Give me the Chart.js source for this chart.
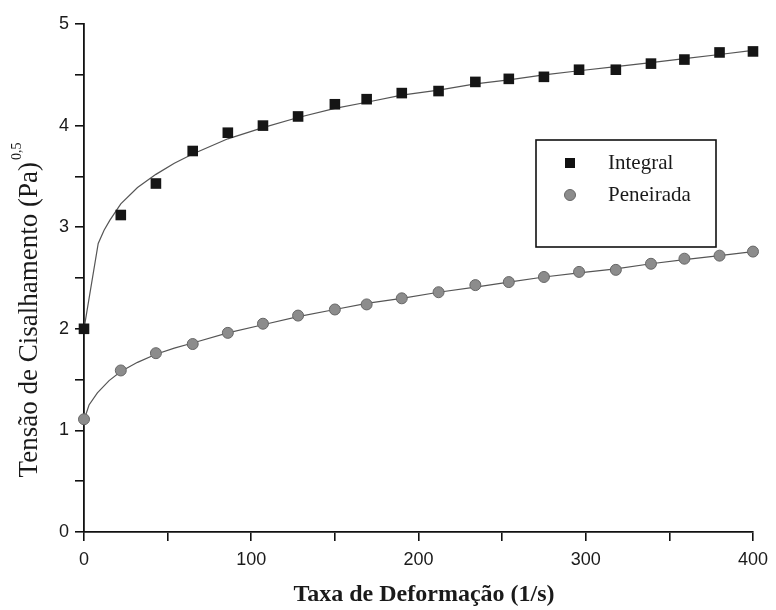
<!DOCTYPE html>
<html>
<head>
<meta charset="utf-8">
<script src="https://cdn.jsdelivr.net/npm/chart.js@4/dist/chart.umd.min.js"></script>
<style>
	body { margin: 0; background: #fff; }
	#wrap { width: 776px; height: 610px; }
</style>
</head>
<body>
<div id="wrap"><canvas id="Chart"></canvas></div>
<script>
/* measured points (taxa de deformacao, 1/s) */
const xRate = [0, 22, 43, 65, 86, 107, 128, 150, 169, 190, 212, 234, 254, 275, 296, 318, 339, 359, 380, 400]
const integral = [2.0, 3.12, 3.43, 3.75, 3.93, 4.0, 4.09, 4.21, 4.26, 4.32, 4.34, 4.43, 4.46, 4.48, 4.55, 4.55, 4.61, 4.65, 4.72, 4.73]
const peneirada = [1.11, 1.59, 1.76, 1.85, 1.96, 2.05, 2.13, 2.19, 2.24, 2.30, 2.36, 2.43, 2.46, 2.51, 2.56, 2.58, 2.64, 2.69, 2.72, 2.76]

/* fitted curves */
const fitIntX = [0, 8.5, 12, 15.5, 22, 32, 43, 54, 65, 86, 107, 128, 150, 169, 190, 212, 234, 254, 275, 296, 318, 339, 359, 380, 400]
const fitIntegral = [2.0, 2.84, 2.97, 3.07, 3.23, 3.39, 3.52, 3.63, 3.72, 3.87, 3.98, 4.08, 4.17, 4.23, 4.30, 4.35, 4.41, 4.45, 4.50, 4.54, 4.58, 4.62, 4.66, 4.70, 4.74]
const fitPenX = [0, 3, 8, 15, 22, 32, 43, 54, 65, 86, 107, 128, 150, 169, 190, 212, 234, 254, 275, 296, 318, 339, 359, 380, 400]
const fitPeneirada = [1.1, 1.25, 1.37, 1.49, 1.58, 1.67, 1.75, 1.81, 1.86, 1.96, 2.04, 2.12, 2.19, 2.25, 2.30, 2.36, 2.41, 2.46, 2.51, 2.55, 2.59, 2.64, 2.68, 2.72, 2.76]

const seriesNames = ['Integral', 'Peneirada']
const xTitle = 'Taxa de Deformação (1/s)'
const yTitle = 'Tensão de Cisalhamento (Pa)'
const yTitleSup = '0,5'

const toXY = (xs, ys) => xs.map((x, i) => ({ x: x, y: ys[i] }))

const serif = '"Liberation Serif", "Times New Roman", serif'
const sans = '"Liberation Sans", Arial, sans-serif'

// titles and inner legend box
const extras = {
	id: 'extras',
	afterDraw(chart) {
		const ctx = chart.ctx
		const ca = chart.chartArea
		ctx.save()
		ctx.fillStyle = '#1a1a1a'

		// x title
		ctx.font = 'bold 24px ' + serif
		ctx.textAlign = 'center'
		ctx.textBaseline = 'middle'
		ctx.fillText(xTitle, 424, 595)

		// y title, rotated, with superscript
		ctx.save()
		ctx.font = '27px ' + serif
		const w1 = ctx.measureText(yTitle).width
		ctx.font = '14px ' + serif
		const w2 = ctx.measureText(yTitleSup).width
		const total = w1 + w2 + 2
		ctx.translate(37, 310)
		ctx.rotate(-Math.PI / 2)
		ctx.textAlign = 'left'
		ctx.textBaseline = 'alphabetic'
		ctx.font = '27px ' + serif
		ctx.fillText(yTitle, -total / 2, 0)
		ctx.font = '14px ' + serif
		ctx.fillText(yTitleSup, -total / 2 + w1 + 2, -16)
		ctx.restore()

		// legend box
		const bx = ca.left + 452
		const by = ca.top + 116
		ctx.strokeStyle = '#111'
		ctx.lineWidth = 1.6
		ctx.strokeRect(bx, by, 180, 107)

		ctx.fillStyle = '#111'
		ctx.fillRect(bx + 29, by + 18, 10, 10)
		ctx.beginPath()
		ctx.arc(bx + 34, by + 55, 5.5, 0, Math.PI * 2)
		ctx.fillStyle = '#8c8c8c'
		ctx.fill()
		ctx.strokeStyle = '#666'
		ctx.lineWidth = 1
		ctx.stroke()

		ctx.fillStyle = '#1a1a1a'
		ctx.font = '21px ' + serif
		ctx.textAlign = 'left'
		ctx.textBaseline = 'middle'
		ctx.fillText(seriesNames[0], bx + 72, by + 23)
		ctx.fillText(seriesNames[1], bx + 72, by + 55)
		ctx.restore()
	}
}

new Chart('Chart', {
	type: 'scatter',
	data: {
		datasets: [
			{
				label: seriesNames[0],
				data: toXY(xRate, integral),
				pointStyle: 'rect',
				pointRadius: 7.5,
				backgroundColor: '#151515',
				borderColor: '#151515',
				borderWidth: 0,
				clip: false,
				order: 0
			},
			{
				label: seriesNames[1],
				data: toXY(xRate, peneirada),
				pointStyle: 'circle',
				pointRadius: 5.5,
				backgroundColor: '#8c8c8c',
				borderColor: '#666',
				borderWidth: 1,
				clip: false,
				order: 0
			},
			{
				label: 'ajuste integral',
				data: toXY(fitIntX, fitIntegral),
				showLine: true,
				pointRadius: 0,
				borderColor: '#555',
				borderWidth: 1.2,
				tension: 0,
				order: 1
			},
			{
				label: 'ajuste peneirada',
				data: toXY(fitPenX, fitPeneirada),
				showLine: true,
				pointRadius: 0,
				borderColor: '#555',
				borderWidth: 1.2,
				tension: 0,
				order: 1
			}
		]
	},
	options: {
		responsive: true,
		maintainAspectRatio: false,
		animation: false,
		layout: { padding: { left: 0, top: 24, right: 21, bottom: 0 } },
		plugins: {
			legend: { display: false },
			tooltip: { enabled: false }
		},
		scales: {
			x: {
				type: 'linear',
				min: 0,
				max: 400,
				afterFit: (scale) => { scale.height = 78 },
				border: { display: true, color: '#111', width: 1.8 },
				grid: { drawOnChartArea: false, drawTicks: true, tickLength: 9, color: '#111', lineWidth: 1.6 },
				ticks: {
					stepSize: 50,
					padding: 8,
					color: '#1a1a1a',
					font: { family: sans, size: 18 },
					maxRotation: 0,
					callback: (v) => (v % 100 === 0 ? v : '')
				}
			},
			y: {
				min: 0,
				max: 5,
				afterFit: (scale) => { scale.width = 84 },
				border: { display: true, color: '#111', width: 1.8 },
				grid: { drawOnChartArea: false, drawTicks: true, tickLength: 9, color: '#111', lineWidth: 1.6 },
				ticks: {
					stepSize: 0.5,
					padding: 6,
					color: '#1a1a1a',
					font: { family: sans, size: 18 },
					callback: (v) => (Number.isInteger(v) ? v : '')
				}
			}
		}
	},
	plugins: [extras]
})
</script>
</body>
</html>
